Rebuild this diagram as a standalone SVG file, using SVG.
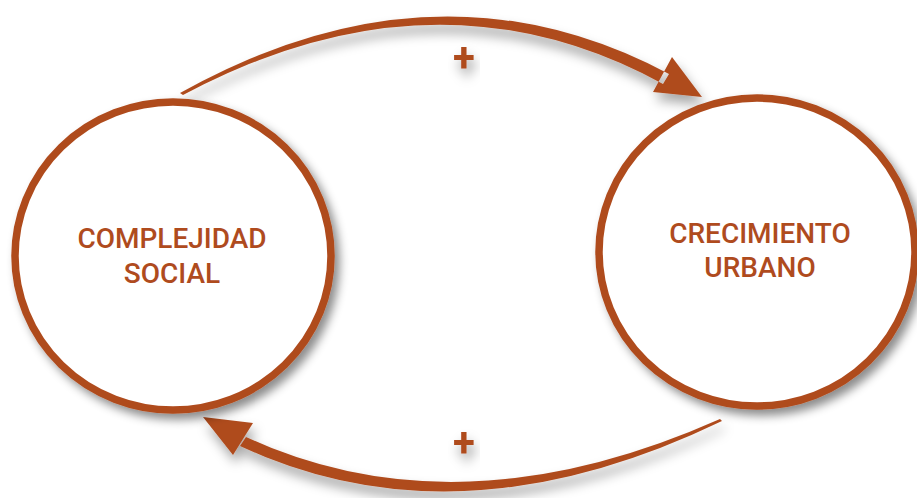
<svg xmlns="http://www.w3.org/2000/svg" width="917" height="498" viewBox="0 0 917 498">
  <defs>
    <filter id="soft-shadow" x="-20%" y="-20%" width="140%" height="150%">
      <feDropShadow dx="5" dy="6" stdDeviation="5" flood-color="#000" flood-opacity="0.45"/>
    </filter>
    <filter id="arc-shadow" x="-20%" y="-40%" width="140%" height="200%">
      <feDropShadow dx="3" dy="8" stdDeviation="6" flood-color="#000" flood-opacity="0.35"/>
    </filter>
  </defs>
  <style>
    .node { fill: #ffffff; stroke: #AF4B1E; stroke-width: 7.5; filter: url(#soft-shadow); }
    .label { font-family: Roboto, "Liberation Sans", sans-serif; font-size: 28px; font-weight: 500; fill: #AF4B1E; text-anchor: middle; }
    .arrow { fill: #AF4B1E; filter: url(#arc-shadow); }
    .sign { font-family: Roboto, "Liberation Sans", sans-serif; font-size: 40px; font-weight: 700; fill: #AF4B1E; text-anchor: middle; filter: url(#arc-shadow); }
  </style>
  <rect width="917" height="498" fill="#ffffff"/>

  <g id="connectors">
    <!-- upper loop arc: social complexity -> urban growth -->
    <g id="arc-top">
      <path class="arrow" d="M180,93 Q436,-50 669,74 L663,84 Q436,-40 183,95 Z M702,97 L672,57 L653,92 Z"/>
      <text class="sign" x="464" y="71">+</text>
    </g>
    <!-- lower loop arc: urban growth -> social complexity -->
    <g id="arc-bottom">
      <path class="arrow" d="M722,421 Q459,548 240,446 L246,437 Q459,535 720,419 Z M203,417 L253,423 L233,455 Z"/>
      <text class="sign" x="464" y="456">+</text>
    </g>
  </g>

  <g id="node-complejidad">
    <ellipse class="node" cx="173" cy="256" rx="158" ry="154"/>
    <text class="label" x="172" y="248">COMPLEJIDAD</text>
    <text class="label" x="172" y="283">SOCIAL</text>
  </g>

  <g id="node-crecimiento">
    <ellipse class="node" cx="757" cy="252" rx="158" ry="154"/>
    <text class="label" x="760" y="243">CRECIMIENTO</text>
    <text class="label" x="760" y="277">URBANO</text>
  </g>
</svg>
